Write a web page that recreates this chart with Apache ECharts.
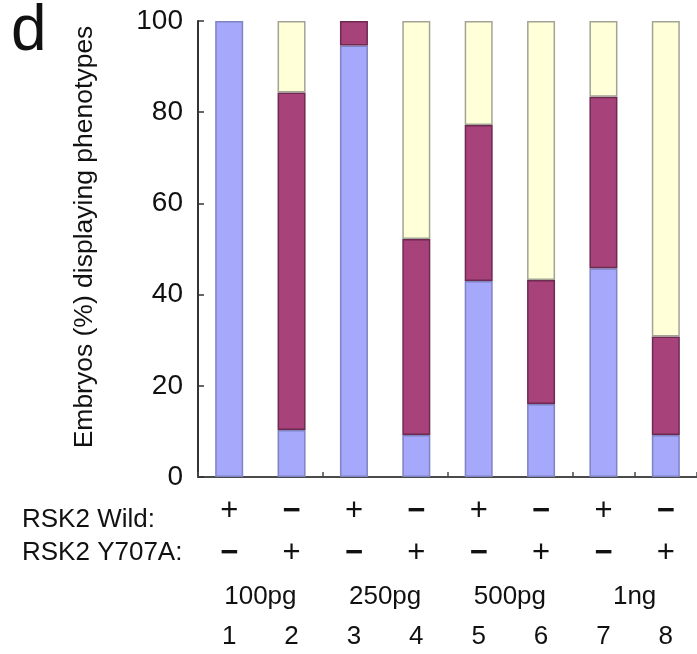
<!DOCTYPE html>
<html>
<head>
<meta charset="utf-8">
<style>
html,body{margin:0;padding:0;background:#fff;}
#chart{width:697px;height:654px;}
</style>
<script src="https://cdn.jsdelivr.net/npm/echarts@6/dist/echarts.min.js"></script>
</head>
<body>
<div id="chart"></div>
<script>
// ---- data ----
var lanes = ['1','2','3','4','5','6','7','8'];
var wildSigns = ['+','−','+','−','+','−','+','−'];
var mutantSigns = ['−','+','−','+','−','+','−','+'];
var doses = ['100pg','250pg','500pg','1ng'];
var bluePct = [100, 10.3, 94.6, 9.2, 43.0, 16.0, 45.8, 9.2];
var maroonPct = [0, 74.0, 5.4, 43.0, 34.2, 27.2, 37.6, 21.6];
var yellowPct = [0, 15.7, 0, 47.8, 22.8, 56.8, 16.6, 69.2];
var yTicks = [0, 20, 40, 60, 80, 100];

var FONT = '"Liberation Sans", Arial, Helvetica, sans-serif';
function clean(arr){ return arr.map(function(v){ return v === 0 ? '-' : v; }); }
function sign(s){ return (s === '+' ? '{p|' : '{m|') + s + '}'; }

var chart = echarts.init(document.getElementById('chart'), null, {renderer:'canvas'});
var option = {
  animation: false,
  backgroundColor: '#ffffff',
  grid: {left: 198, top: 21, width: 504, height: 456, containLabel: false},
  xAxis: [{
    type: 'category',
    data: lanes,
    position: 'bottom',
    axisLine: {show: true, lineStyle: {color: '#4a4a4a', width: 2}},
    axisTick: {show: true, inside: true, interval: 1, length: 5, lineStyle: {color: '#4a4a4a', width: 1.5}},
    axisLabel: {
      interval: 0,
      margin: 13,
      formatter: function(v, i){
        return sign(wildSigns[i]) + '\n' + sign(mutantSigns[i]) + '\n{p| }\n{n|' + v + '}';
      },
      rich: {
        p: {fontFamily: FONT, fontSize: 31, lineHeight: 42, color: '#111'},
        m: {fontFamily: FONT, fontSize: 31, lineHeight: 42, color: '#111', fontWeight: 'bold'},
        n: {fontFamily: FONT, fontSize: 26, lineHeight: 42, color: '#111'}
      }
    }
  }, {
    type: 'category',
    data: doses,
    position: 'bottom',
    offset: 0,
    axisLine: {show: false},
    axisTick: {show: false},
    axisLabel: {interval: 0, margin: 107, fontFamily: FONT, fontSize: 26, color: '#111'}
  }],
  yAxis: {
    type: 'value',
    min: 0, max: 100, interval: 20,
    axisLine: {show: true, lineStyle: {color: '#333', width: 2}},
    axisTick: {show: true, inside: true, length: 6, lineStyle: {color: '#333', width: 1.5}},
    axisLabel: {margin: 15, fontFamily: FONT, fontSize: 28, color: '#111',
      formatter: function(v){ return yTicks.indexOf(v) >= 0 ? String(v) : ''; }},
    splitLine: {show: false}
  },
  series: [{
    name: 'blue', type: 'bar', stack: 'total', barWidth: 28, xAxisIndex: 0,
    data: clean(bluePct),
    itemStyle: {color: '#a5a8fb', borderColor: '#7f83c2', borderWidth: 1.5}
  }, {
    name: 'maroon', type: 'bar', stack: 'total', barWidth: 28, xAxisIndex: 0,
    data: clean(maroonPct),
    itemStyle: {color: '#a7437a', borderColor: '#6e2a50', borderWidth: 1.5}
  }, {
    name: 'yellow', type: 'bar', stack: 'total', barWidth: 28, xAxisIndex: 0,
    data: clean(yellowPct),
    itemStyle: {color: '#ffffd8', borderColor: '#a3a396', borderWidth: 1.5}
  }],
  graphic: [{
    type: 'text', left: 11, top: 0,
    style: {text: 'd', font: '64px ' + FONT, fill: '#111'}
  }, {
    type: 'text', x: 85, y: 237, rotation: Math.PI / 2,
    style: {text: 'Embryos (%) displaying phenotypes', font: '26.5px ' + FONT, fill: '#111',
      textAlign: 'center', textVerticalAlign: 'middle'}
  }, {
    type: 'text', left: 22, top: 507,
    style: {text: 'RSK2 Wild:', font: '26px ' + FONT, fill: '#111'}
  }, {
    type: 'text', left: 22, top: 540,
    style: {text: 'RSK2 Y707A:', font: '26px ' + FONT, fill: '#111'}
  }]
};
chart.setOption(option);
</script>
</body>
</html>
